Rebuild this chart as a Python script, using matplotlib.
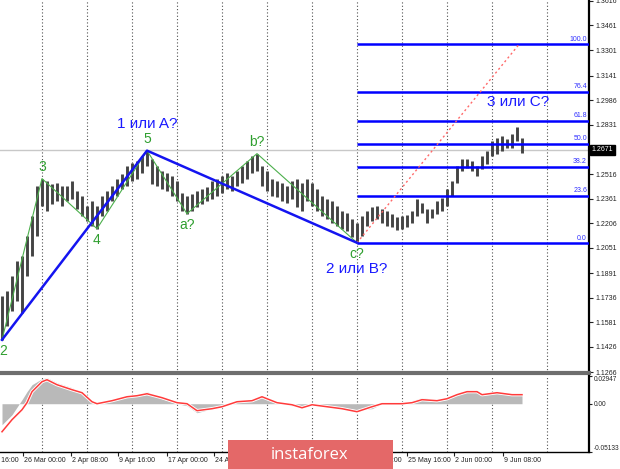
import matplotlib
matplotlib.use("Agg")
import matplotlib.pyplot as plt
from matplotlib.patches import Rectangle

# H4 bars: high / low for every bar (one bar per ~5 px)
bar_highs = [1.1748, 1.1780, 1.1875, 1.1970, 1.2001, 1.2128, 1.2255, 1.2445, 1.2490, 1.2477,
             1.2458, 1.2464, 1.2445, 1.2445, 1.2477, 1.2414, 1.2382, 1.2318, 1.2350, 1.2318,
             1.2382, 1.2414, 1.2445, 1.2490, 1.2521, 1.2572, 1.2591, 1.2604, 1.2635, 1.2667,
             1.2616, 1.2572, 1.2540, 1.2528, 1.2509, 1.2477, 1.2401, 1.2382, 1.2395, 1.2414,
             1.2426, 1.2439, 1.2477, 1.2490, 1.2509, 1.2528, 1.2509, 1.2540, 1.2572, 1.2604,
             1.2635, 1.2648, 1.2572, 1.2540, 1.2490, 1.2477, 1.2464, 1.2445, 1.2477, 1.2490,
             1.2464, 1.2490, 1.2464, 1.2426, 1.2382, 1.2363, 1.2350, 1.2318, 1.2287, 1.2274,
             1.2236, 1.2211, 1.2255, 1.2287, 1.2312, 1.2318, 1.2299, 1.2287, 1.2268, 1.2249,
             1.2255, 1.2261, 1.2287, 1.2363, 1.2337, 1.2299, 1.2299, 1.2350, 1.2369, 1.2426,
             1.2477, 1.2572, 1.2616, 1.2616, 1.2604, 1.2572, 1.2635, 1.2667, 1.2731, 1.2750,
             1.2762, 1.2743, 1.2775, 1.2819, 1.2750]
bar_lows = [1.1470, 1.1558, 1.1653, 1.1716, 1.1640, 1.1875, 1.2001, 1.2128, 1.2318, 1.2287,
            1.2331, 1.2350, 1.2318, 1.2350, 1.2363, 1.2299, 1.2255, 1.2223, 1.2192, 1.2173,
            1.2255, 1.2287, 1.2350, 1.2382, 1.2426, 1.2445, 1.2477, 1.2490, 1.2528, 1.2572,
            1.2458, 1.2445, 1.2426, 1.2414, 1.2382, 1.2350, 1.2287, 1.2268, 1.2287, 1.2312,
            1.2331, 1.2350, 1.2363, 1.2382, 1.2401, 1.2426, 1.2414, 1.2445, 1.2464, 1.2490,
            1.2528, 1.2540, 1.2445, 1.2414, 1.2382, 1.2376, 1.2350, 1.2337, 1.2363, 1.2312,
            1.2287, 1.2350, 1.2318, 1.2287, 1.2255, 1.2236, 1.2211, 1.2192, 1.2173, 1.2160,
            1.2122, 1.2084, 1.2128, 1.2192, 1.2223, 1.2236, 1.2211, 1.2192, 1.2185, 1.2166,
            1.2173, 1.2185, 1.2211, 1.2255, 1.2274, 1.2211, 1.2242, 1.2268, 1.2287, 1.2318,
            1.2382, 1.2464, 1.2540, 1.2559, 1.2540, 1.2509, 1.2553, 1.2585, 1.2635, 1.2648,
            1.2667, 1.2686, 1.2686, 1.2731, 1.2654]
current_price = 1.2671

# wave count (small green waves), marked on a bar high or low
wave_labels = ["2", "3", "4", "5", "a?", "b?", "c?"]
wave_bars = [0, 8, 19, 29, 37, 51, 71]
wave_at_high = [False, True, False, True, False, True, False]
big_wave_points = [0, 3, 6]  # 2 -> 5 -> c? (indexes into the wave lists)
big_wave_labels = ["1 или A?", "2 или B?", "3 или С?"]

# Fibonacci grid from the c? low
fib_labels = ["0.0", "23.6", "38.2", "50.0", "61.8", "76.4", "100.0"]
fib_prices = [1.2084, 1.2382, 1.2566, 1.2712, 1.2857, 1.3041, 1.3339]
fib_target_bar = 103.4

price_ticks = [1.3616, 1.3461, 1.3301, 1.3141, 1.2986, 1.2831, 1.2516, 1.2361,
               1.2206, 1.2051, 1.1891, 1.1736, 1.1581, 1.1426, 1.1266]

# MACD: histogram (main) and signal line, sampled along the bars
macd_bars = [0, 2, 4, 5, 6, 8, 9, 11, 14, 16, 18, 19, 22, 25, 27, 29, 32, 35, 37, 39,
             42, 44, 47, 50, 52, 55, 58, 60, 62, 65, 68, 71, 74, 76, 80, 82, 84, 87, 89, 91,
             93, 95, 96, 99, 102, 104]
macd_hist = [-0.0223, -0.0117, 0.0043, 0.0128, 0.0202, 0.0266, 0.0276, 0.0223, 0.0170, 0.0117,
             0.0032, 0.0, 0.0032, 0.0074, 0.0096, 0.0128, 0.0053, 0.0, -0.0021, -0.0096,
             -0.0053, -0.0021, 0.0032, 0.0043, 0.0085, 0.0011, -0.0021, -0.0043, -0.0011, -0.0021,
             -0.0043, -0.0064, -0.0053, 0.0, 0.0, 0.0032, 0.0064, 0.0043, 0.0064, 0.0106,
             0.0138, 0.0128, 0.0106, 0.0128, 0.0106, 0.0106]
macd_signal = [-0.0298, -0.0170, -0.0064, 0.0011, 0.0128, 0.0234, 0.0255, 0.0202, 0.0149, 0.0117,
               0.0021, 0.0, 0.0032, 0.0074, 0.0085, 0.0106, 0.0064, 0.0011, 0.0, -0.0074,
               -0.0053, -0.0032, 0.0021, 0.0032, 0.0074, 0.0011, -0.0011, -0.0043, -0.0011, -0.0032,
               -0.0053, -0.0085, -0.0032, 0.0, 0.0, 0.0011, 0.0043, 0.0032, 0.0053, 0.0096,
               0.0128, 0.0128, 0.0096, 0.0117, 0.0096, 0.0096]
macd_ticks = [0.02947, 0.0, -0.05133]
macd_tick_labels = ["0.02947", "0.00", "-0.05133"]

# time labels (the ones fully under the banner are left out)
time_labels = ["19 Mar 16:00", "26 Mar 00:00", "2 Apr 08:00", "9 Apr 16:00", "17 Apr 00:00",
               "24 Apr 08:00", "18 May 08:00", "25 May 16:00", "2 Jun 00:00", "9 Jun 08:00"]
time_label_bars = [-5.4, 4.2, 13.8, 23.2, 33.0, 42.4, 71.2, 81.0, 90.4, 100.2]
time_tick_bars = [4.2, 13.8, 23.2, 33.0, 42.4, 52.0, 61.6, 71.2, 81.0, 90.4, 100.2]
grid_bars = [8, 17, 26, 35, 44, 53, 62, 71, 80, 89, 98, 109]

XLIM = (-0.4, 117.4)
FONT = "Liberation Sans"
GRID = dict(color="#505050", lw=0.8, ls=(0, (1, 2)), zorder=1)


def draw_price_panel(ax):
    """Bars, wave count, Fibonacci levels and price axis."""
    idx = list(range(len(bar_highs)))
    for g in grid_bars:
        ax.axvline(g, **GRID)
    ax.axhline(current_price, color="#c8c8c8", lw=1, zorder=1)

    ax.vlines(idx, bar_lows, bar_highs, color="#444444", lw=2.1, zorder=3)

    # wave points
    wave_prices = [bar_highs[b] if hi else bar_lows[b] for b, hi in zip(wave_bars, wave_at_high)]
    ax.plot(wave_bars, wave_prices, color="#4caf4c", lw=0.8, zorder=4)
    ax.plot([wave_bars[i] for i in big_wave_points], [wave_prices[i] for i in big_wave_points],
            color="#1414f0", lw=1.8, zorder=5)
    for lab, b, p, hi in zip(wave_labels, wave_bars, wave_prices, wave_at_high):
        ax.annotate(lab, (b, p), xytext=(1 if b == 0 else 0, 3 if hi else -3),
                    textcoords="offset points", ha="center", va="bottom" if hi else "top",
                    color="#2f9f2f", fontsize=10, family=FONT, zorder=6)

    # big wave labels
    ax.annotate(big_wave_labels[0], (wave_bars[3], wave_prices[3]), xytext=(0, 14),
                textcoords="offset points", ha="center", va="bottom",
                color="#1a1aff", fontsize=11, family=FONT)
    ax.annotate(big_wave_labels[1], (wave_bars[6], wave_prices[6]), xytext=(0, -14),
                textcoords="offset points", ha="center", va="top",
                color="#1a1aff", fontsize=11, family=FONT)
    ax.text(103.2, 1.2972, big_wave_labels[2], ha="center", va="center",
            color="#1a1aff", fontsize=11, family=FONT)

    # Fibonacci grid
    start = wave_bars[6]
    for lab, p in zip(fib_labels, fib_prices):
        ax.plot([start, XLIM[1]], [p, p], color="#0000ff", lw=1.8, zorder=4, solid_capstyle="butt")
        ax.text(XLIM[1] - 0.4, p + 0.0008, lab, ha="right", va="bottom",
                color="#3030ff", fontsize=5, family=FONT)
    ax.plot([start, fib_target_bar], [fib_prices[0], fib_prices[-1]],
            color="#ff6a6a", lw=1, ls=(0, (1.5, 2)), zorder=4)

    ax.set_xlim(*XLIM)
    ax.set_ylim(1.1260, 1.3620)
    ax.yaxis.tick_right()
    ax.set_yticks(price_ticks)
    ax.set_yticklabels(["%.4f" % t for t in price_ticks])
    ax.tick_params(axis="y", labelsize=5, length=3, width=0.8, pad=1.5, colors="#222222")
    for lbl in ax.get_yticklabels():
        lbl.set_family(FONT)
    ax.set_xticks([])
    for s in ["left", "top"]:
        ax.spines[s].set_visible(False)
    ax.spines["right"].set_color("black")
    ax.spines["right"].set_linewidth(1.6)
    ax.spines["bottom"].set_color("#6e6e6e")
    ax.spines["bottom"].set_linewidth(3)

    # current price box
    ax.text(1.004, current_price, "%.4f" % current_price, transform=ax.get_yaxis_transform(),
            ha="left", va="center", color="white", fontsize=5, family=FONT,
            bbox=dict(boxstyle="square,pad=0.25", fc="black", ec="black"), clip_on=False)


def draw_macd_panel(ax):
    """MACD histogram with the signal line and the time axis."""
    for g in grid_bars:
        ax.axvline(g, **GRID)
    ax.fill_between(macd_bars, 0, macd_hist, color="#b9b9b9", lw=0, zorder=2)
    ax.plot(macd_bars, macd_signal, color="white", lw=2.4, zorder=3)
    ax.plot(macd_bars, macd_signal, color="#ff3b3b", lw=1.1, zorder=4)

    ax.set_xlim(*XLIM)
    ax.set_ylim(-0.05133, 0.02947)
    ax.yaxis.tick_right()
    ax.set_yticks(macd_ticks)
    ax.set_yticklabels(macd_tick_labels)
    ax.tick_params(axis="y", labelsize=4.7, length=2.5, width=0.8, pad=1, colors="#222222")
    labels = ax.get_yticklabels()
    labels[0].set_va("top")
    labels[-1].set_va("bottom")
    for lbl in labels:
        lbl.set_family(FONT)

    ax.set_xticks(time_tick_bars)
    ax.set_xticklabels([])
    ax.tick_params(axis="x", length=3, width=0.8, colors="#222222")
    for b, lab in zip(time_label_bars, time_labels):
        ax.text(b + 0.3, -0.07, lab, transform=ax.get_xaxis_transform(), ha="left", va="top",
                fontsize=5, family=FONT, color="#222222", clip_on=False)

    for s in ["left", "top"]:
        ax.spines[s].set_visible(False)
    ax.spines["right"].set_linewidth(1.6)
    ax.spines["bottom"].set_linewidth(1)


def add_watermark(fig):
    """instaforex banner at the bottom."""
    fig.patches.append(Rectangle((228 / 620, 0), 165 / 620, 29 / 469, transform=fig.transFigure,
                                 facecolor="#e46868", edgecolor="none", zorder=10))
    fig.text(310 / 620, 14 / 469, "instaforex", ha="center", va="center", color="white",
             fontsize=12, family="Open Sans", zorder=11)


fig = plt.figure(figsize=(6.2, 4.69), dpi=100)
ax_price = fig.add_axes([0, 1 - 373 / 469, 589 / 620, 373 / 469])
ax_macd = fig.add_axes([0, 1 - 452 / 469, 589 / 620, 76 / 469])
draw_price_panel(ax_price)
draw_macd_panel(ax_macd)
add_watermark(fig)
fig.savefig("out.png", dpi=100, facecolor="white")
